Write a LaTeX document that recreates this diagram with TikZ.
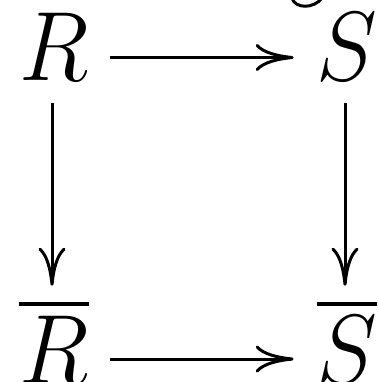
\documentclass[tikz,border=0pt]{standalone}
\usepackage{fix-cm}
\usepackage{graphicx}
\usetikzlibrary{arrows.meta}
\newcommand\tallm[1]{\scalebox{1}[1.07]{$#1$}}
\newcommand\ovlm[1]{\vbox{\hrule height 3.4pt\kern 10pt\hbox{\tallm{#1}}}}
\begin{document}
\begin{tikzpicture}[x=1pt,y=-1pt,
  lbl/.style={inner sep=0pt, outer sep=0pt, anchor=base, font=\fontsize{92}{100}\selectfont},
  arr/.style={line width=3pt, -{Computer Modern Rightarrow[length=38pt,width=27pt,line width=3pt]}}]
\useasboundingbox (0,0) rectangle (379,382);
\node[lbl] (R) at (54,81) {\tallm{R}};
\node[lbl] (S) at (347,81) {\tallm{S}};
\node[lbl] (Rb) at (54,383) {\ovlm{R}};
\node[lbl] (Sb) at (347,383) {\ovlm{S}};
\draw[arr, shorten <=21pt, shorten >=23pt] ([yshift=23.5pt]R.base east) -- ([yshift=23.5pt]S.base west);
\draw[arr, shorten <=21pt, shorten >=23pt] ([yshift=24pt]Rb.base east) -- ([yshift=24pt]Sb.base west);
\draw[arr, shorten <=22pt, shorten >=16.6pt] ([xshift=-2pt]R.south) -- ([xshift=-2pt]Rb.north);
\draw[arr, shorten <=22pt, shorten >=16.6pt] ([xshift=-2pt]S.base) -- ([xshift=-2pt]Sb.north);
\draw[line width=3pt] (292,-2) .. controls (295,9) and (314,9) .. (322,-2);
\end{tikzpicture}
\end{document}
